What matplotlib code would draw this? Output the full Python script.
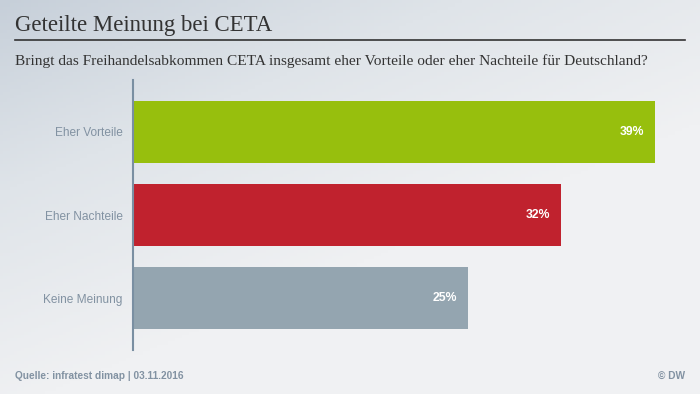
import numpy as np
import matplotlib
matplotlib.use("Agg")
import matplotlib.pyplot as plt
from matplotlib.colors import LinearSegmentedColormap

categories = ["Eher Vorteile", "Eher Nachteile", "Keine Meinung"]
values = [39, 32, 25]
bar_colors = ["#97bf0d", "#c0222e", "#94a5b0"]
value_labels = ["39%", "32%", "25%"]

title = "Geteilte Meinung bei CETA"
subtitle = "Bringt das Freihandelsabkommen CETA insgesamt eher Vorteile oder eher Nachteile für Deutschland?"
source = "Quelle: infratest dimap | 03.11.2016"
credit = "© DW"

W, H = 700, 394
fig = plt.figure(figsize=(W / 100, H / 100), dpi=100)

# background gradient (darker top-left, lighter bottom-right)
bg = fig.add_axes([0, 0, 1, 1], zorder=-10)
xx, yy = np.meshgrid(np.linspace(0, 1, 200), np.linspace(0, 1, 120))
t = np.clip(0.7 * xx + 0.95 * yy, 0, 1) ** 0.9
cmap = LinearSegmentedColormap.from_list("bg", ["#c6cfd9", "#dfe4e9", "#f0f1f3"])
bg.imshow(t, cmap=cmap, aspect="auto", extent=[0, 1, 1, 0], vmin=0, vmax=1)
bg.set_axis_off()

# title block
fig.text(15 / W, 1 - 25 / H, title, family="Liberation Serif", fontsize=16.5,
         color="#333333", va="center", ha="left")
fig.add_artist(plt.Line2D([15 / W, 685 / W], [1 - 40 / H, 1 - 40 / H],
                          color="#333333", lw=1.2))
fig.text(15 / W, 1 - 61 / H, subtitle, family="Liberation Serif", fontsize=11.1,
         color="#333333", va="center", ha="left")

# bars
ax = fig.add_axes([132.5 / W, 44 / H, 536 / W, 270 / H])
ax.patch.set_alpha(0)
y = np.arange(len(categories))
ax.barh(y, values, height=0.743, color=bar_colors)
ax.set_xlim(0, 40)
ax.set_ylim(2.625, -0.625)
for i, (v, lab) in enumerate(zip(values, value_labels)):
    ax.text(v - 0.8, i, lab, color="white", fontweight="bold", fontsize=8.8,
            family="Liberation Sans", ha="right", va="center")

ax.set_yticks(y)
ax.set_yticklabels(categories, family="Liberation Sans", fontsize=8.6, color="#8292a2")
ax.tick_params(axis="y", length=0, pad=7)
ax.set_xticks([])
for s in ["top", "right", "bottom"]:
    ax.spines[s].set_visible(False)
ax.spines["left"].set_color("#7a8fa2")
ax.spines["left"].set_linewidth(1.5)

# footer
fig.text(15 / W, 1 - 376 / H, source, family="Liberation Sans", fontsize=7.3,
         fontweight="bold", color="#8292a2", va="center", ha="left")
fig.text(685 / W, 1 - 376 / H, credit, family="Liberation Sans", fontsize=7.3,
         fontweight="bold", color="#8292a2", va="center", ha="right")

fig.savefig("out.png", dpi=100)
